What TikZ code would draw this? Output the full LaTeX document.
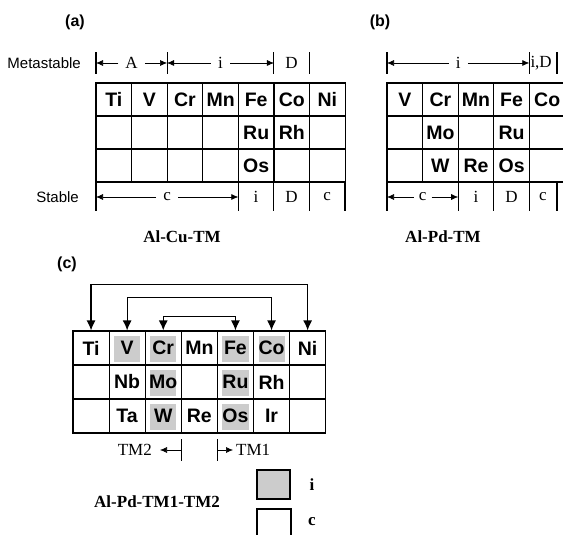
\documentclass[tikz,border=0pt]{standalone}
\usepackage{fontspec}
\setmainfont{Liberation Serif}
\setsansfont{Liberation Sans}
\usetikzlibrary{arrows.meta}

\begin{document}
\begin{tikzpicture}[x=1pt, y=1pt,
  cell/.style={draw, line width=1.1pt, minimum width=35.6pt, minimum height=33pt,
    inner sep=0pt, font=\sffamily\bfseries\fontsize{19.5}{19.5}\selectfont},
  ccell/.style={cell, minimum width=36.1pt, minimum height=34pt},
  bar/.style={line width=1.1pt},
  seg/.style={inner xsep=7pt, inner ysep=0pt, font=\fontsize{17}{17}\selectfont},
  rule/.style={line width=0.6pt, -{Latex[length=7pt,width=6pt]}},
  side/.style={anchor=east, inner sep=0pt, font=\sffamily\fontsize{15}{15}\selectfont},
  panel/.style={font=\sffamily\bfseries\fontsize{16}{16}\selectfont},
  title/.style={font=\bfseries\fontsize{17}{17}\selectfont},
  bracket/.style={line width=1.2pt,
    {Latex[length=10pt,width=9pt]}-{Latex[length=10pt,width=9pt]}},
  dotfill/.style={fill=gray!40}
]
  \useasboundingbox (0,0) rectangle (563,535);

  % Panel labels
  \node[panel] (pa) at (75,513) {(a)};
  \node[panel] (pb) at (380,513) {(b)};
  \node[panel] (pc) at (67,271) {(c)};

  % Table (a)
  \foreach \row [count=\r] in {{Ti,V,Cr,Mn,Fe,Co,Ni},{{},{},{},{},Ru,Rh,{}},{{},{},{},{},Os,{},{}}}
    \foreach \lbl [count=\c] in \row
      \node[cell] (a\r\c) at ({96+(\c-0.5)*35.6}, {452-(\r-0.5)*33}) {\lbl};

  % Table (b)
  \foreach \row [count=\r] in {{V,Cr,Mn,Fe,Co},{{},Mo,{},Ru,{}},{{},W,Re,Os,{}}}
    \foreach \lbl [count=\c] in \row
      \node[cell] (b\r\c) at ({387+(\c-0.5)*35.6}, {452-(\r-0.5)*33}) {\lbl};

  % Metastable (a)
  \node[side] (meta) at (81,472) {Metastable};
  \foreach \x in {96,167.1,273.9,309.4}
    \draw[bar] (\x,461) -- (\x,483);
  \coordinate (ma0) at (96,472);
  \coordinate (ma1) at (167.1,472);
  \coordinate (ma2) at (273.9,472);
  \node[seg] (mA) at (131.6,472) {A};
  \draw[rule] (mA) -- (ma0);
  \draw[rule] (mA) -- (ma1);
  \node[seg] (mi) at (220.5,472) {i};
  \draw[rule] (mi) -- (ma1);
  \draw[rule] (mi) -- (ma2);
  \node[seg] (mD) at (291.6,472) {D};

  % Stable (a)
  \node[side] (stab) at (79,338) {Stable};
  \foreach \x in {96,238.3,273.9,309.4,345}
    \draw[bar] (\x,324) -- (\x,352);
  \coordinate (sa0) at (96,338);
  \coordinate (sa1) at (238.3,338);
  \node[seg] (sc) at (167.2,338) {c};
  \draw[rule] (sc) -- (sa0);
  \draw[rule] (sc) -- (sa1);
  \foreach \x/\lbl/\nm in {256.1/i/si, 291.6/D/sD, 327.2/c/sc2}
    \node[seg] (\nm) at (\x,338) {\lbl};

  % Metastable (b)
  \foreach \x in {387,529.3,557}
    \draw[bar] (\x,461) -- (\x,483);
  \coordinate (mb0) at (387,472);
  \coordinate (mb1) at (529.3,472);
  \node[seg] (bi) at (458.2,472) {i};
  \draw[rule] (bi) -- (mb0);
  \draw[rule] (bi) -- (mb1);
  \node[seg, anchor=west, inner xsep=1pt] (biD) at (529.3,472) {i,D};

  % Stable (b)
  \foreach \x in {387,458.2,493.8,529.3,557}
    \draw[bar] (\x,324) -- (\x,352);
  \coordinate (sb0) at (387,338);
  \coordinate (sb1) at (458.2,338);
  \node[seg, inner xsep=5pt] (bc) at (422.6,338) {c};
  \draw[rule] (bc) -- (sb0);
  \draw[rule] (bc) -- (sb1);
  \foreach \x/\lbl/\nm in {476/i/bsi, 511.5/D/bsD, 543/c/bsc}
    \node[seg] (\nm) at (\x,338) {\lbl};

  % Titles
  \node[title] (tta) at (182,298) {Al-Cu-TM};
  \node[title] (ttb) at (443,298) {Al-Pd-TM};

  % Table (c): shading first, then cells
  \foreach \r/\c in {1/2,1/3,1/5,1/6,2/3,2/5,3/3,3/5}
    \fill[dotfill] ({73+(\c-1)*36.1+5}, {204-(\r-1)*34-5})
      rectangle ({73+\c*36.1-5}, {204-\r*34+3});
  \foreach \row [count=\r] in {{Ti,V,Cr,Mn,Fe,Co,Ni},{{},Nb,Mo,{},Ru,Rh,{}},{{},Ta,W,Re,Os,Ir,{}}}
    \foreach \lbl [count=\c] in \row
      \node[ccell] (c\r\c) at ({73+(\c-0.5)*36.1}, {204-(\r-0.5)*34}) {\lbl};

  % Exchange arrows
  \draw[bracket] (c11.north) -- ++(0,46) -| (c17.north);
  \draw[bracket] (c12.north) -- ++(0,33) -| (c16.north);
  \draw[bracket] (c13.north) -- ++(0,14) -| (c15.north);

  % TM2 / TM1
  \coordinate (tm2bar) at (181.3,85);
  \coordinate (tm1bar) at (217.4,85);
  \draw[bar] (181.3,74) -- (181.3,96);
  \draw[bar] (217.4,74) -- (217.4,96);
  \node[seg, anchor=east, inner xsep=0pt] (tm2) at (152,85) {TM2};
  \node[seg, anchor=west, inner xsep=0pt] (tm1) at (236,85) {TM1};
  \draw[rule] (tm2bar) -- ([xshift=8pt]tm2.east);
  \draw[rule] (tm1bar) -- ([xshift=-3pt]tm1.west);

  % Legend
  \node[title] (ttc) at (157,33) {Al-Pd-TM1-TM2};
  \node[draw, line width=1.2pt, dotfill, minimum width=33pt, minimum height=29pt,
    inner sep=0pt] (legi) at (273.5,50.5) {};
  \node[title] (legit) at (312,50) {i};
  \node[draw, line width=1.2pt, minimum width=34pt, minimum height=30pt,
    inner sep=0pt] (legc) at (274,11) {};
  \node[title] (legct) at (312,13) {c};
\end{tikzpicture}
\end{document}
